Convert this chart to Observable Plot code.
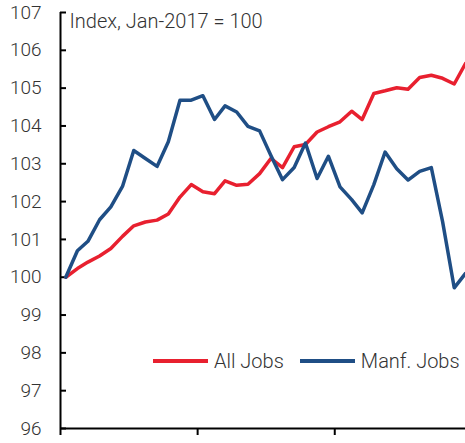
<!DOCTYPE html>
<html><head><meta charset="utf-8">
<script src="https://cdn.jsdelivr.net/npm/d3@7"></script>
<script src="https://cdn.jsdelivr.net/npm/@observablehq/plot@0.6"></script>
<style>
body{margin:0;background:#fff;}
#wrap{position:relative;width:465px;height:443px;font-family:Roboto,sans-serif;}
.legend{position:absolute;left:153px;top:349px;display:flex;align-items:center;font-size:20px;font-weight:300;color:#333;white-space:nowrap;line-height:24px}
.sw{display:inline-block;width:55px;height:0;border-top:4px solid;margin-right:6px}
.item{display:flex;align-items:center}
.item + .item{margin-left:16px}
</style></head><body><div id="wrap"></div>
<script>
const months = d3.utcMonth.range(new Date(Date.UTC(2017,0,1)), new Date(Date.UTC(2020,0,1)));
const allJobs = [100.0, 100.23, 100.40, 100.56, 100.76, 101.08, 101.36, 101.46, 101.51, 101.67, 102.12, 102.45,
                 102.26, 102.21, 102.55, 102.43, 102.46, 102.74, 103.14, 102.90, 103.45, 103.51, 103.84, 103.98,
                 104.11, 104.39, 104.17, 104.86, 104.93, 105.01, 104.97, 105.28, 105.34, 105.26, 105.11, 105.65];
const manfJobs = [100.0, 100.70, 100.95, 101.52, 101.86, 102.40, 103.35, 103.14, 102.93, 103.58, 104.68, 104.68,
                  104.80, 104.17, 104.53, 104.37, 103.99, 103.87, 103.22, 102.58, 102.90, 103.55, 102.61, 103.20,
                  102.39, 102.05, 101.70, 102.45, 103.31, 102.87, 102.57, 102.80, 102.90, 101.47, 99.72, 100.10];
const seriesNames = ["All Jobs", "Manf. Jobs"];
const seriesColors = ["#e8202f", "#1f4e85"];
const yTicks = [96, 97, 98, 99, 100, 101, 102, 103, 104, 105, 106, 107];
const xTickYears = [2017, 2018, 2019];
const title = "Index, Jan-2017 = 100";

const xStart = new Date(Date.UTC(2017, 0, 1));
const xEnd = new Date(Date.UTC(2019, 11, 15));
const xTicks = xTickYears.map(y => new Date(Date.UTC(y, 0, 1)));
const seriesValues = [allJobs, manfJobs];
const rows = [];
seriesNames.forEach((name, s) => {
  months.forEach((m, i) => rows.push({date: d3.utcDay.offset(m, 14), series: name, value: seriesValues[s][i]}));
});

const chart = Plot.plot({
  width: 465, height: 443,
  marginLeft: 60, marginRight: 0, marginTop: 12, marginBottom: 15,
  style: {fontFamily: "Roboto, sans-serif", fontSize: "19px", fontWeight: 300, color: "#333", background: "#fff"},
  x: {type: "utc", domain: [xStart, xEnd]},
  y: {domain: [96, 107]},
  color: {domain: seriesNames, range: seriesColors},
  marks: [
    Plot.axisY({ticks: yTicks, tickSize: -6, tickPadding: 25, strokeWidth: 2, stroke: "#000", fill: "#333", fontSize: 19, label: null}),
    Plot.axisX({ticks: xTicks, tickSize: 7, tickPadding: 0, strokeWidth: 2, stroke: "#000", tickFormat: () => "", label: null}),
    Plot.ruleX([xStart], {stroke: "#000", strokeWidth: 2}),
    Plot.ruleY([96], {stroke: "#000", strokeWidth: 2}),
    Plot.line(rows, {x: "date", y: "value", z: "series", stroke: "series", strokeWidth: 3.5}),
    Plot.text([title], {frameAnchor: "top-left", dx: 9, dy: 1, lineAnchor: "top", textAnchor: "start", fontSize: 20, fill: "#333"})
  ]
});
const wrap = document.getElementById("wrap");
wrap.appendChild(chart);
const legend = document.createElement("div");
legend.className = "legend";
seriesNames.forEach((name, i) => {
  const item = document.createElement("span");
  item.className = "item";
  const sw = document.createElement("span");
  sw.className = "sw";
  sw.style.borderTopColor = seriesColors[i];
  item.appendChild(sw);
  item.appendChild(document.createTextNode(name));
  legend.appendChild(item);
});
wrap.appendChild(legend);
</script></body></html>
